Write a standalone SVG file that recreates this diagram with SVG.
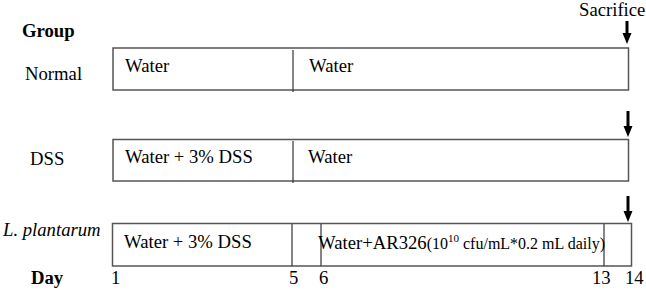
<svg xmlns="http://www.w3.org/2000/svg" width="646" height="290" viewBox="0 0 646 290">
<defs>
<style>
text{font-family:"Liberation Serif","Times New Roman",serif;font-size:18.7px;fill:#000}
.b{font-weight:bold}
.i{font-style:italic}
.box{fill:#fff;stroke:#555;stroke-width:1.5}
.div{stroke:#333;stroke-width:1.2}
.arr{stroke:#000;stroke-width:3}
.sm{font-size:16px}
.sup{font-size:11px}
</style>
<marker id="ah" markerWidth="11" markerHeight="10" refX="1" refY="5" orient="auto" markerUnits="userSpaceOnUse">
<path d="M0,0.5 L11,5 L0,9.5 Z" fill="#000"/>
</marker>
</defs>
<rect width="646" height="290" fill="#fff"/>
<text x="22" y="37" class="b">Group</text>
<text x="579" y="16">Sacrifice</text>
<g id="normal">
<text x="25" y="80">Normal</text>
<rect class="box" x="113" y="48" width="515.5" height="42"/>
<line class="div" x1="293" y1="50" x2="293" y2="92"/>
<text x="125" y="72">Water</text>
<text x="309" y="72">Water</text>
</g>
<g id="dss">
<text x="30" y="165">DSS</text>
<rect class="box" x="113" y="139.5" width="515.5" height="41.5"/>
<line class="div" x1="293" y1="141" x2="293" y2="183"/>
<text x="125" y="163">Water + 3% DSS</text>
<text x="308" y="163">Water</text>
</g>
<g id="plantarum">
<text x="3" y="236" class="i">L. plantarum</text>
<rect class="box" x="112.5" y="223.5" width="519" height="42.5"/>
<line class="div" x1="292" y1="224" x2="292" y2="266"/>
<line class="div" x1="321" y1="224" x2="321" y2="266"/>
<line class="div" x1="604" y1="224" x2="604" y2="266"/>
<text x="124" y="248">Water + 3% DSS</text>
<text x="318" y="249">Water+AR326<tspan class="sm">(10<tspan class="sup" dy="-7">10</tspan><tspan dy="7"> cfu/mL*0.2 mL daily)</tspan></tspan></text>
</g>
<g id="day">
<text x="31" y="284" class="b">Day</text>
<text x="111" y="284">1</text>
<text x="289" y="284">5</text>
<text x="319" y="284">6</text>
<text x="592" y="284">13</text>
<text x="625" y="284">14</text>
</g>
<g id="connectors">
<line class="arr" x1="627" y1="21" x2="627" y2="34" marker-end="url(#ah)"/>
<line class="arr" x1="628" y1="111" x2="628" y2="127" marker-end="url(#ah)"/>
<line class="arr" x1="628" y1="196" x2="628" y2="212" marker-end="url(#ah)"/>
</g>
</svg>
